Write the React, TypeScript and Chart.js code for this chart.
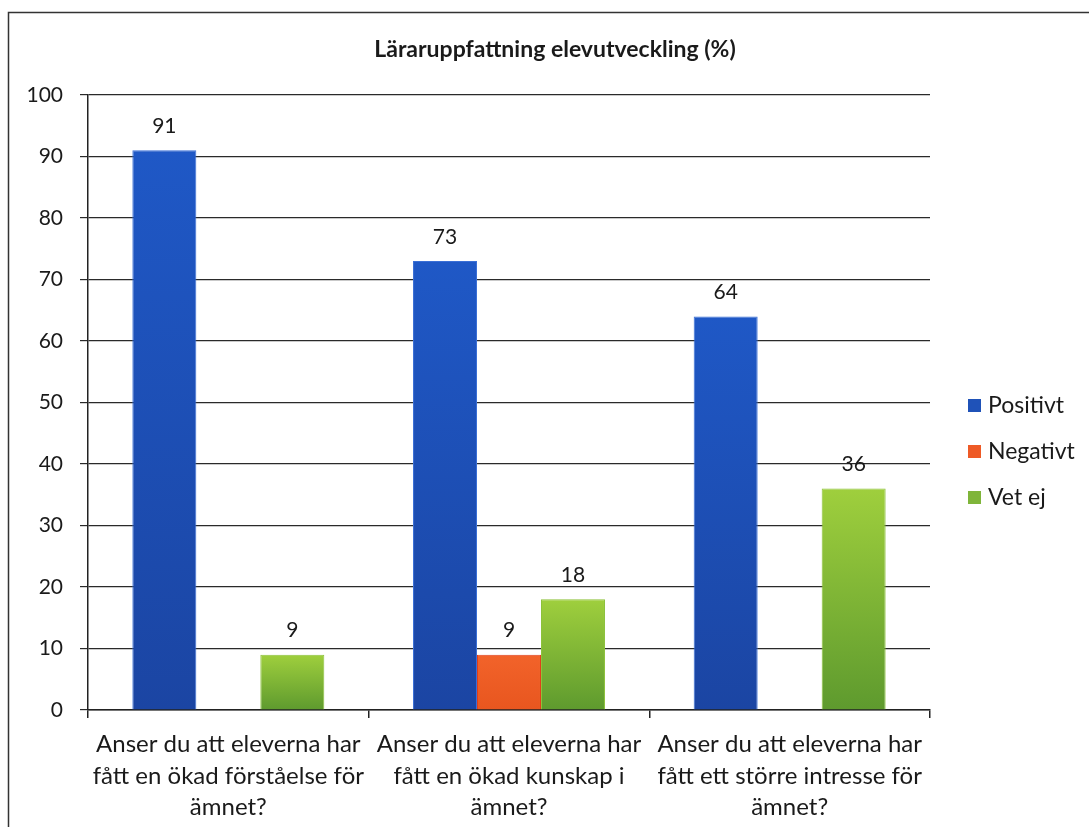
import React, { useEffect, useRef } from "react";
import { Chart, registerables } from "chart.js";

Chart.register(...registerables);

const TITLE = "Läraruppfattning elevutveckling (%)";
const categories: string[][] = [
  ["Anser du att eleverna har", "fått en ökad förståelse för", "ämnet?"],
  ["Anser du att eleverna har", "fått en ökad kunskap i", "ämnet?"],
  ["Anser du att eleverna har", "fått ett större intresse för", "ämnet?"],
];
const seriesNames = ["Positivt", "Negativt", "Vet ej"];
const positivt: (number | null)[] = [91, 73, 64];
const negativt: (number | null)[] = [null, 9, null];
const vetEj: (number | null)[] = [9, 18, 36];
const yTicks = [0, 10, 20, 30, 40, 50, 60, 70, 80, 90, 100];

const FONT = "Lato, 'Noto Sans', sans-serif";
const TEXT = "#1a1a1a";

const gradStops: [string, string][] = [
  ["#1f58c6", "#1b45a3"],
  ["#f2632a", "#e8561f"],
  ["#9fcf3d", "#5e9a2e"],
];
const legendSwatch = ["#1f52b8", "#ee5a26", "#7fb53a"];
const borderCols = ["#3a6fd6", "#e03d1a", "#8cc23a"];

function makeBg(idx: number) {
  return (ctx: any) => {
    const chart = ctx.chart;
    const area = chart.chartArea;
    if (!area || ctx.type !== "data") return gradStops[idx][0];
    const v = ctx.raw;
    if (v == null) return gradStops[idx][0];
    const yTop = chart.scales.y.getPixelForValue(v);
    const yBot = chart.scales.y.getPixelForValue(0);
    const g = chart.ctx.createLinearGradient(0, yTop, 0, yBot);
    g.addColorStop(0, gradStops[idx][0]);
    g.addColorStop(1, gradStops[idx][1]);
    return g;
  };
}

const framePlugin = {
  id: "frame",
  beforeDraw(chart: any) {
    const c = chart.ctx;
    c.save();
    c.fillStyle = "#ffffff";
    c.fillRect(0, 0, chart.width, chart.height);
    c.strokeStyle = "#333333";
    c.lineWidth = 1.5;
    c.beginPath();
    c.moveTo(8.5, chart.height + 2);
    c.lineTo(8.5, 12.5);
    c.lineTo(chart.width + 2, 12.5);
    c.stroke();
    c.restore();
  },
  afterDraw(chart: any) {
    const c = chart.ctx;
    c.save();
    // title
    c.fillStyle = TEXT;
    c.font = `bold 23px ${FONT}`;
    c.textAlign = "center";
    c.textBaseline = "middle";
    c.fillText(TITLE, 555, 50);
    // data labels
    c.font = `21px ${FONT}`;
    c.textBaseline = "middle";
    chart.data.datasets.forEach((ds: any, di: number) => {
      const meta = chart.getDatasetMeta(di);
      meta.data.forEach((bar: any, i: number) => {
        const v = ds.data[i];
        if (v == null) return;
        c.fillText(String(v), bar.x, bar.y - 24);
      });
    });
    // legend
    c.textAlign = "left";
    c.font = `23px ${FONT}`;
    const rows = [406, 452, 498];
    chart.data.datasets.forEach((ds: any, di: number) => {
      const y = rows[di];
      c.fillStyle = legendSwatch[di];
      c.fillRect(968, y - 7, 13, 13);
      c.fillStyle = TEXT;
      c.fillText(ds.label, 988, y);
    });
    c.restore();
  },
};

export default function App() {
  const ref = useRef<HTMLCanvasElement | null>(null);
  useEffect(() => {
    if (!ref.current) return;
    const chart = new Chart(ref.current, {
      type: "bar",
      data: {
        labels: categories,
        datasets: [positivt, negativt, vetEj].map((d, i) => ({
          label: seriesNames[i],
          data: d,
          backgroundColor: makeBg(i),
          borderColor: borderCols[i],
          borderWidth: 1,
          categoryPercentage: 0.684,
          barPercentage: 1,
          skipNull: false,
        })),
      },
      options: {
        animation: false,
        responsive: false,
        layout: { padding: { left: 0, right: 159, top: 95, bottom: 0 } },
        plugins: {
          legend: { display: false },
          title: { display: false },
          tooltip: { enabled: false },
        },
        scales: {
          x: {
            grid: {
              offset: true,
              drawOnChartArea: false,
              drawTicks: true,
              tickLength: 8,
              color: "#222222",
              lineWidth: 1.5,
            },
            border: { display: true, color: "#222222", width: 1.5 },
            ticks: {
              color: TEXT,
              font: { family: FONT, size: 24, lineHeight: 1.3 },
              padding: 11,
              maxRotation: 0,
              autoSkip: false,
            },
            afterFit(scale: any) {
              scale.height = 117;
            },
          },
          y: {
            min: 0,
            max: 100,
            afterBuildTicks(scale: any) {
              scale.ticks = yTicks.map((v) => ({ value: v }));
            },
            grid: {
              drawTicks: true,
              tickLength: 8,
              color: "#2a2a2a",
              lineWidth: 1.2,
            },
            border: { display: true, color: "#222222", width: 1.5 },
            ticks: {
              color: TEXT,
              font: { family: FONT, size: 21 },
              padding: 17,
            },
            afterFit(scale: any) {
              scale.width = 88;
            },
          },
        },
      },
      plugins: [framePlugin],
    });
    return () => chart.destroy();
  }, []);
  return (
    <div style={{ position: "fixed", left: 0, top: 0, width: 1089, height: 827 }}>
      <canvas ref={ref} width={1089} height={827} style={{ width: 1089, height: 827, display: "block" }} />
    </div>
  );
}
